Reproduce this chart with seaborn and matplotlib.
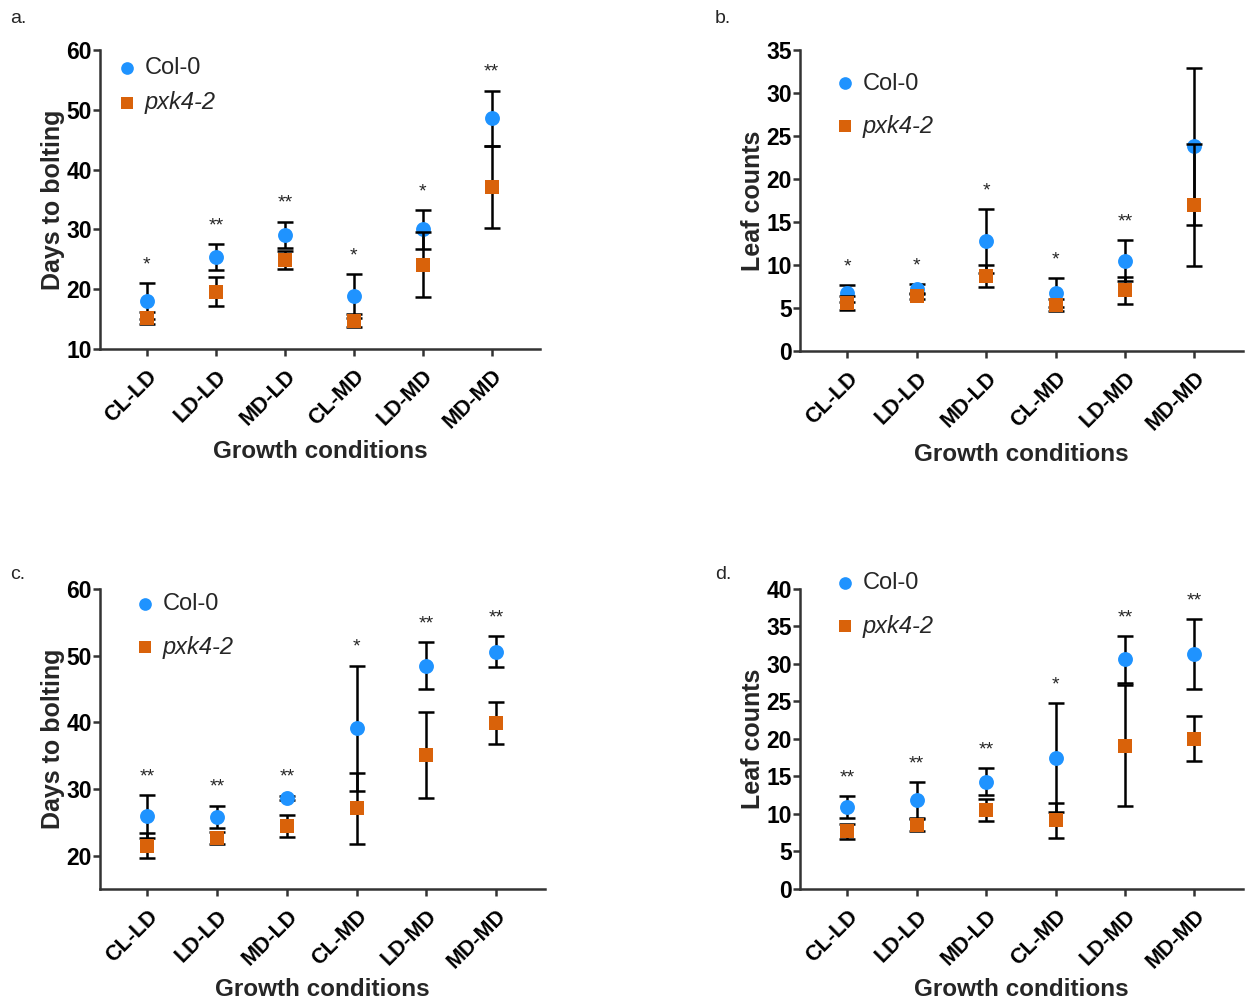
import numpy as np
import pandas as pd
import matplotlib
matplotlib.use("Agg")
import matplotlib.pyplot as plt
import seaborn as sns

sns.set_style("ticks")
plt.rcParams['font.family'] = ['Liberation Sans', 'DejaVu Sans']

conditions = ['CL-LD', 'LD-LD', 'MD-LD', 'CL-MD', 'LD-MD', 'MD-MD']
genotypes = ['Col-0', 'pxk4-2']

# a. days to bolting
a_col_mean = [18.0, 25.4, 29.1, 18.8, 30.0, 48.6]
a_col_sd = [3.0, 2.2, 2.2, 3.7, 3.2, 4.6]
a_pxk_mean = [15.2, 19.6, 24.9, 14.7, 24.1, 37.1]
a_pxk_sd = [1.0, 2.4, 1.5, 1.1, 5.4, 6.9]
a_stars = ['*', '**', '**', '*', '*', '**']

# b. leaf counts
b_col_mean = [6.7, 7.2, 12.8, 6.8, 10.5, 23.8]
b_col_sd = [0.95, 0.6, 3.7, 1.65, 2.4, 9.1]
b_pxk_mean = [5.6, 6.4, 8.7, 5.3, 7.05, 17.0]
b_pxk_sd = [0.8, 0.3, 1.3, 0.7, 1.55, 7.1]
b_stars = ['*', '*', '*', '*', '**', '']

# c. days to bolting
c_col_mean = [25.9, 25.8, 28.7, 39.1, 48.5, 50.6]
c_col_sd = [3.2, 1.7, 0.3, 9.4, 3.5, 2.3]
c_pxk_mean = [21.5, 22.7, 24.4, 27.1, 35.1, 39.9]
c_pxk_sd = [1.9, 0.9, 1.65, 5.3, 6.5, 3.2]
c_stars = ['**', '**', '**', '*', '**', '**']

# d. leaf counts
d_col_mean = [10.9, 11.8, 14.3, 17.5, 30.6, 31.3]
d_col_sd = [1.5, 2.4, 1.8, 7.3, 3.1, 4.7]
d_pxk_mean = [7.7, 8.5, 10.5, 9.15, 19.1, 20.0]
d_pxk_sd = [1.0, 0.8, 1.5, 2.35, 8.1, 3.0]
d_stars = ['**', '**', '**', '*', '**', '**']

colors = {'Col-0': '#1f93ff', 'pxk4-2': '#d9620a'}
markers = {'Col-0': 'o', 'pxk4-2': 's'}

fig = plt.figure(figsize=(12.45, 10.08), dpi=100)

panels = [
    dict(tag='a.', rect=[0.0803, 0.6538, 0.3534, 0.2966], ylim=(10, 60), ticks=[10, 20, 30, 40, 50, 60],
         ylabel='Days to bolting', col=(a_col_mean, a_col_sd), pxk=(a_pxk_mean, a_pxk_sd), stars=a_stars,
         tagpos=(0.008, 0.99), leg=(0.045, 0.975), spacing=0.5, xlab_pad=5),
    dict(tag='b.', rect=[0.6426, 0.6518, 0.3558, 0.2986], ylim=(0, 35), ticks=[0, 5, 10, 15, 20, 25, 30, 35],
         ylabel='Leaf counts', col=(b_col_mean, b_col_sd), pxk=(b_pxk_mean, b_pxk_sd), stars=b_stars,
         tagpos=(0.574, 0.99), leg=(0.085, 0.925), spacing=0.85, xlab_pad=6),
    dict(tag='c.', rect=[0.0803, 0.1181, 0.3574, 0.2976], ylim=(15, 60), ticks=[20, 30, 40, 50, 60],
         ylabel='Days to bolting', col=(c_col_mean, c_col_sd), pxk=(c_pxk_mean, c_pxk_sd), stars=c_stars,
         tagpos=(0.008, 0.438), leg=(0.085, 0.985), spacing=0.85, xlab_pad=4),
    dict(tag='d.', rect=[0.6426, 0.1181, 0.3558, 0.2976], ylim=(0, 40), ticks=[0, 5, 10, 15, 20, 25, 30, 35, 40],
         ylabel='Leaf counts', col=(d_col_mean, d_col_sd), pxk=(d_pxk_mean, d_pxk_sd), stars=d_stars,
         tagpos=(0.574, 0.438), leg=(0.085, 1.055), spacing=0.85, xlab_pad=4),
]

x = np.arange(len(conditions))

for p in panels:
    ax = fig.add_axes(p['rect'])
    z = 2
    for g, (m, s) in zip(genotypes, [p['col'], p['pxk']]):
        df = pd.DataFrame({'condition': conditions, 'x': x, 'mean': m, 'sd': s})
        ax.errorbar(df['x'], df['mean'], yerr=df['sd'], fmt='none', ecolor='black',
                    elinewidth=1.8, capsize=6, capthick=1.8, zorder=z)
        sns.scatterplot(data=df, x='x', y='mean', ax=ax, color=colors[g], marker=markers[g],
                        s=115 if g == 'Col-0' else 105, linewidth=0, zorder=z + 1, label=g)
        z += 2
    # significance stars above the Col-0 upper bar
    col_m, col_s = p['col']
    for xi, mi, si, st in zip(x, col_m, col_s, p['stars']):
        if st:
            ax.annotate(st, (xi, mi + si), xytext=(0, 7), textcoords='offset points',
                        ha='center', va='bottom', fontsize=14)

    ax.set_xlim(-0.68, 5.7)
    ax.set_ylim(*p['ylim'])
    ax.set_yticks(p['ticks'])
    ax.set_xticks(x)
    ax.set_xticklabels(conditions, rotation=45, ha='right', rotation_mode='anchor',
                       fontsize=15.5, fontweight='bold')
    for lab in ax.get_yticklabels():
        lab.set_fontsize(16.5)
        lab.set_fontweight('bold')
    ax.tick_params(axis='both', width=1.8, length=5, pad=1, color='#333333', labelcolor='black')
    ax.tick_params(axis='x', pad=7)
    sns.despine(ax=ax)
    for sp in ['left', 'bottom']:
        ax.spines[sp].set_linewidth(1.8)
        ax.spines[sp].set_color('#333333')
    ax.set_xlabel('Growth conditions', fontsize=17.5, fontweight='bold', labelpad=p['xlab_pad'])
    ax.set_ylabel(p['ylabel'], fontsize=18, fontweight='bold', labelpad=1)

    leg = ax.legend(loc='upper left', bbox_to_anchor=p['leg'], frameon=False, fontsize=17,
                    handlelength=0.6, handletextpad=0.45, labelspacing=p['spacing'],
                    borderaxespad=0, borderpad=0, markerscale=0.85)
    leg.get_texts()[1].set_style('italic')
    fig.text(p['tagpos'][0], p['tagpos'][1], p['tag'], fontsize=14, va='top')

fig.savefig('out.png', dpi=100)
